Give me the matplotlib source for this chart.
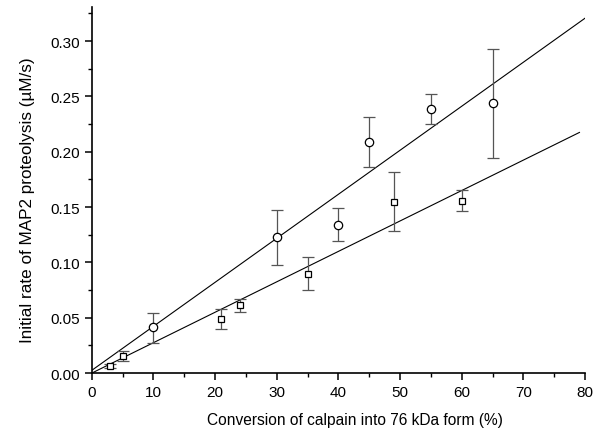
import matplotlib.pyplot as plt
from matplotlib.ticker import MultipleLocator

plt.rcParams['font.family'] = ['Liberation Sans', 'DejaVu Sans']

# circles (upper series)
circ_x = [10, 30, 40, 45, 55, 65]
circ_y = [0.0415, 0.123, 0.134, 0.209, 0.239, 0.244]
circ_lo = [0.0275, 0.0975, 0.1195, 0.1865, 0.225, 0.194]
circ_hi = [0.0545, 0.147, 0.149, 0.231, 0.252, 0.293]

# squares (lower series)
sq_x = [3, 5, 21, 24, 35, 49, 60]
sq_y = [0.0066, 0.0154, 0.049, 0.0612, 0.090, 0.155, 0.1558]
sq_lo = [0.0045, 0.0106, 0.040, 0.055, 0.0753, 0.128, 0.1467]
sq_hi = [0.0085, 0.0196, 0.058, 0.067, 0.1046, 0.182, 0.1655]

# fitted lines
fit1_x = [0, 80]
fit1_y = [0.0025, 0.3207]
fit2_x = [0, 79.1]
fit2_y = [0.0, 0.2175]

fig = plt.figure(figsize=(6, 4.35), dpi=100)
ax = fig.add_axes([0.153, 0.140, 0.822, 0.842])

ax.plot(fit1_x, fit1_y, color='black', lw=0.8)
ax.plot(fit2_x, fit2_y, color='black', lw=0.8)

def errs(y, lo, hi):
    return [[a - b for a, b in zip(y, lo)], [c - a for a, c in zip(y, hi)]]

ax.errorbar(circ_x, circ_y, yerr=errs(circ_y, circ_lo, circ_hi), fmt='o',
            mfc='white', mec='black', ms=6, mew=0.9, ecolor='#555555',
            elinewidth=0.9, capsize=4.5, capthick=0.9, zorder=3)
ax.errorbar(sq_x, sq_y, yerr=errs(sq_y, sq_lo, sq_hi), fmt='s',
            mfc='white', mec='black', ms=5, mew=0.9, ecolor='#555555',
            elinewidth=0.9, capsize=4, capthick=0.9, zorder=3)

ax.set_xlim(0, 80)
ax.set_ylim(0, 0.331)
ax.xaxis.set_major_locator(MultipleLocator(10))
ax.xaxis.set_minor_locator(MultipleLocator(5))
ax.yaxis.set_major_locator(MultipleLocator(0.05))
ax.yaxis.set_minor_locator(MultipleLocator(0.025))
ax.yaxis.set_major_formatter(plt.FormatStrFormatter('%.2f'))

for s in ['top', 'right']:
    ax.spines[s].set_visible(False)
for s in ['left', 'bottom']:
    ax.spines[s].set_linewidth(1.2)
ax.tick_params(which='major', direction='out', length=5, width=1.1, labelsize=11)
ax.tick_params(which='minor', direction='out', length=3, width=1.0)

ax.set_xlabel('Conversion of calpain into 76 kDa form (%)', fontsize=11.2)
ax.set_ylabel('Initial rate of MAP2 proteolysis (\u00b5M/s)', fontsize=12.3)
ax.xaxis.set_label_coords(0.533, -0.105)
ax.yaxis.set_label_coords(-0.115, 0.475)

fig.savefig('out.png', dpi=100)
